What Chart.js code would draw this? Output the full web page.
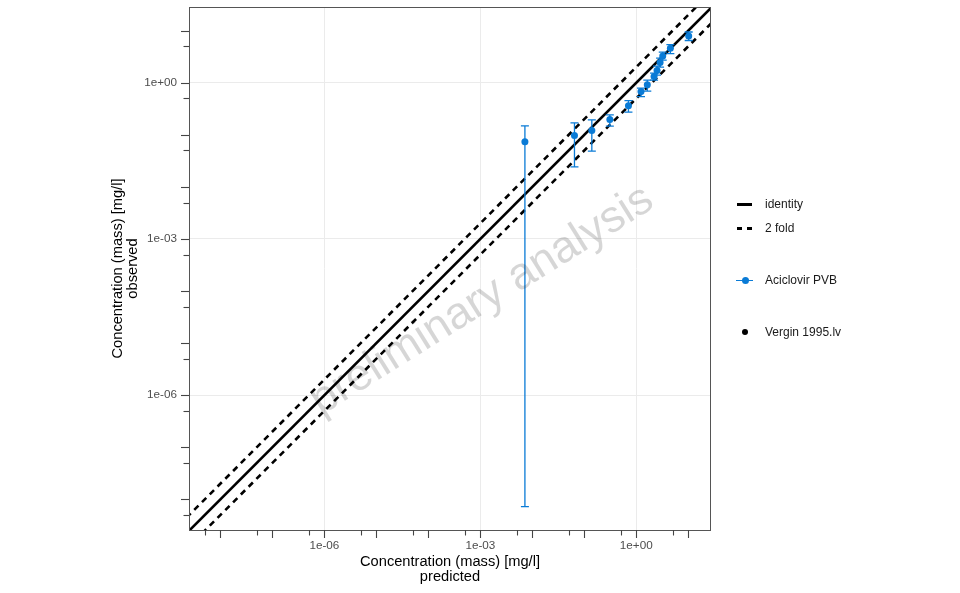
<!DOCTYPE html>
<html>
<head>
<meta charset="utf-8">
<script src="https://cdn.jsdelivr.net/npm/chart.js@4.4.1/dist/chart.umd.min.js"></script>
<style>
  html, body { margin: 0; padding: 0; background: #ffffff; }
  #wrap { position: relative; width: 960px; height: 593px; font-family: "Liberation Sans", Arial, sans-serif; }
  #chart { position: absolute; left: 0; top: 0; }
  .leg { position: absolute; font-size: 12px; color: #1a1a1a; line-height: 14px; white-space: nowrap; }
  .sym { position: absolute; }
</style>
</head>
<body>
<div id="wrap">
  <canvas id="chart" width="960" height="593"></canvas>
  <!-- legend -->
  <div class="sym" style="left:737px; top:203px; width:15px; height:2.6px; background:#000;"></div>
  <div class="leg" style="left:765px; top:197px;">identity</div>
  <div class="sym" style="left:737px; top:227px; width:5px; height:2.6px; background:#000;"></div>
  <div class="sym" style="left:747px; top:227px; width:5px; height:2.6px; background:#000;"></div>
  <div class="leg" style="left:765px; top:221px;">2 fold</div>
  <div class="sym" style="left:736px; top:279.5px; width:17px; height:1.3px; background:#0a7bd6;"></div>
  <div class="sym" style="left:741.5px; top:276.5px; width:7px; height:7px; border-radius:50%; background:#0a7bd6;"></div>
  <div class="leg" style="left:765px; top:273px;">Aciclovir PVB</div>
  <div class="sym" style="left:742px; top:328.5px; width:6px; height:6px; border-radius:50%; background:#000;"></div>
  <div class="leg" style="left:765px; top:325px;">Vergin 1995.lv</div>
</div>
<script>
// observed vs predicted
const predicted = [0.0072, 0.0647, 0.1396, 0.310, 0.707, 1.233, 1.63, 2.20, 2.51, 2.87, 3.23, 4.53, 10.2];
const observed  = [0.0733, 0.0973, 0.1215, 0.196, 0.361, 0.677, 0.911, 1.316, 1.717, 2.45, 3.26, 4.59, 7.91];
const errLow    = [7.2e-9, 0.0243, 0.0486, 0.147, 0.273, 0.543, 0.692, 1.127, 1.406, 2.0, 2.73, 3.61, 6.48];
const errHigh   = [0.149, 0.170, 0.194, 0.242, 0.455, 0.791, 1.127, 1.537, 2.09, 2.98, 3.89, 5.38, 9.44];

// reference lines (end points, beyond the axis range)
const identityX = [1e-10, 1e3];
const identityY = [1e-10, 1e3];
const foldUpperY = [2e-10, 2e3];
const foldLowerY = [5e-11, 5e2];

// axis ranges and ticks
const xRange = [2.48e-9, 27.4];
const yRange = [2.57e-9, 28.5];
const labelTicks = [1e-6, 1e-3, 1e0];
const labelTexts = ['1e-06', '1e-03', '1e+00'];
const decadeTicks = [1e-8, 1e-7, 1e-6, 1e-5, 1e-4, 1e-3, 1e-2, 1e-1, 1e0, 1e1];
const halfTicks = [5e-9, 5e-8, 5e-7, 5e-6, 5e-5, 5e-4, 5e-3, 5e-2, 5e-1, 5e0];

const blue = '#0a7bd6';
const titleFont = { family: '"Liberation Sans", Arial, sans-serif', size: 14.67, lineHeight: 1.05 };
const tickFont = { family: '"Liberation Sans", Arial, sans-serif', size: 11.7 };

function toPoints(xs, ys) {
    return xs.map((x, i) => ({ x: x, y: ys[i] }));
}

// error bars on the observed points
const errorBarPlugin = {
    id: 'errorBars',
    afterDatasetsDraw(chart) {
        const ctx = chart.ctx;
        const xs = chart.scales.x, ys = chart.scales.y;
        const area = chart.chartArea;
        ctx.save();
        ctx.beginPath();
        ctx.rect(area.left, area.top, area.right - area.left, area.bottom - area.top);
        ctx.clip();
        ctx.strokeStyle = blue;
        ctx.lineWidth = 1.3;
        predicted.forEach((p, i) => {
            const px = xs.getPixelForValue(p);
            const yHi = ys.getPixelForValue(errHigh[i]);
            const yLo = ys.getPixelForValue(errLow[i]);
            ctx.beginPath();
            ctx.moveTo(px, yHi); ctx.lineTo(px, yLo);
            ctx.moveTo(px - 4, yHi); ctx.lineTo(px + 4, yHi);
            ctx.moveTo(px - 4, yLo); ctx.lineTo(px + 4, yLo);
            ctx.stroke();
        });
        ctx.restore();
    }
};

// watermark over the panel
const watermarkPlugin = {
    id: 'watermark',
    afterDatasetsDraw(chart) {
        const ctx = chart.ctx;
        const area = chart.chartArea;
        ctx.save();
        ctx.translate((area.left + area.right) / 2 + 32, (area.top + area.bottom) / 2 + 32);
        ctx.rotate(-32 * Math.PI / 180);
        ctx.font = '45px "Liberation Sans", Arial, sans-serif';
        ctx.fillStyle = 'rgba(0,0,0,0.16)';
        ctx.textAlign = 'center';
        ctx.textBaseline = 'middle';
        ctx.fillText('preliminary analysis', 0, 0);
        ctx.restore();
    }
};

// panel border and outside tick marks (long at decades, short at halves)
const frameTicksPlugin = {
    id: 'frameTicks',
    afterDraw(chart) {
        const ctx = chart.ctx;
        const area = chart.chartArea;
        const xs = chart.scales.x, ys = chart.scales.y;
        ctx.save();
        ctx.strokeStyle = '#555555';
        ctx.lineWidth = 1;
        ctx.strokeRect(area.left + 0.5, area.top + 0.5, area.right - area.left - 1, area.bottom - area.top);
        ctx.strokeStyle = '#444444';
        ctx.lineWidth = 1.1;
        const drawSet = (vals, len) => {
            vals.forEach(v => {
                const px = Math.round(xs.getPixelForValue(v)) + 0.5;
                if (px >= area.left && px <= area.right) {
                    ctx.beginPath();
                    ctx.moveTo(px, area.bottom);
                    ctx.lineTo(px, area.bottom + len);
                    ctx.stroke();
                }
                const py = Math.round(ys.getPixelForValue(v)) + 0.5;
                if (py >= area.top && py <= area.bottom) {
                    ctx.beginPath();
                    ctx.moveTo(area.left, py);
                    ctx.lineTo(area.left - len, py);
                    ctx.stroke();
                }
            });
        };
        drawSet(decadeTicks, 8);
        drawSet(halfTicks, 5.5);
        ctx.restore();
    }
};

const ctx = document.getElementById('chart').getContext('2d');
new Chart(ctx, {
    type: 'scatter',
    data: {
        datasets: [
            {
                label: 'Aciclovir PVB',
                data: toPoints(predicted, observed),
                showLine: false,
                pointRadius: 3.5,
                pointBackgroundColor: blue,
                pointBorderColor: blue,
                pointBorderWidth: 0
            },
            {
                label: 'identity',
                data: toPoints(identityX, identityY),
                showLine: true,
                borderColor: '#000000',
                borderWidth: 2.6,
                pointRadius: 0,
                clip: 0
            },
            {
                label: '2 fold',
                data: toPoints(identityX, foldUpperY),
                showLine: true,
                borderColor: '#000000',
                borderWidth: 2.6,
                borderDash: [6, 5],
                pointRadius: 0,
                clip: 0
            },
            {
                label: '2 fold lower',
                data: toPoints(identityX, foldLowerY),
                showLine: true,
                borderColor: '#000000',
                borderWidth: 2.6,
                borderDash: [6, 5],
                pointRadius: 0,
                clip: 0
            }
        ]
    },
    options: {
        responsive: false,
        animation: false,
        events: [],
        layout: { padding: { top: 7, right: 249, left: 0, bottom: 0 } },
        plugins: {
            legend: { display: false },
            tooltip: { enabled: false }
        },
        scales: {
            x: {
                type: 'logarithmic',
                min: xRange[0],
                max: xRange[1],
                afterBuildTicks: (scale) => { scale.ticks = labelTicks.map(v => ({ value: v })); },
                afterFit: (scale) => { scale.height = 63; scale.paddingLeft = 0; scale.paddingRight = 0; },
                grid: { color: '#ebebeb', lineWidth: 1, drawTicks: false },
                border: { display: false },
                ticks: {
                    autoSkip: false,
                    maxRotation: 0,
                    padding: 9,
                    color: '#4d4d4d',
                    font: tickFont,
                    callback: (v, i) => labelTexts[i]
                },
                title: {
                    display: true,
                    text: ['Concentration (mass) [mg/l]', 'predicted'],
                    color: '#000000',
                    font: titleFont,
                    padding: { top: 0, bottom: 8 }
                }
            },
            y: {
                type: 'logarithmic',
                min: yRange[0],
                max: yRange[1],
                afterBuildTicks: (scale) => { scale.ticks = labelTicks.map(v => ({ value: v })); },
                afterFit: (scale) => { scale.width = 189; scale.paddingTop = 0; scale.paddingBottom = 0; },
                grid: { color: '#ebebeb', lineWidth: 1, drawTicks: false },
                border: { display: false },
                ticks: {
                    autoSkip: false,
                    padding: 12,
                    color: '#4d4d4d',
                    font: tickFont,
                    callback: (v, i) => labelTexts[i]
                },
                title: {
                    display: true,
                    text: ['Concentration (mass) [mg/l]', 'observed'],
                    color: '#000000',
                    font: titleFont,
                    padding: { top: 110, bottom: 0 }
                }
            }
        }
    },
    plugins: [errorBarPlugin, watermarkPlugin, frameTicksPlugin]
});
</script>
</body>
</html>
